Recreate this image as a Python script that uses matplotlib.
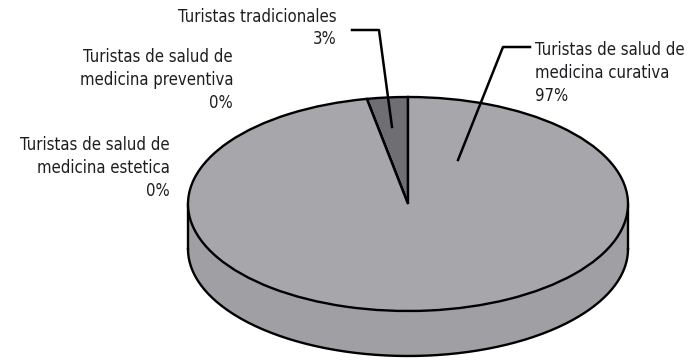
import numpy as np
import matplotlib.pyplot as plt
from matplotlib.patches import Polygon
from matplotlib import font_manager

# Data
categories = ['Turistas tradicionales',
              'Turistas de salud de\nmedicina preventiva',
              'Turistas de salud de\nmedicina estetica',
              'Turistas de salud de\nmedicina curativa']
values = [3, 0, 0, 97]
pct_labels = ['3%', '0%', '0%', '97%']
colors = ['#6f6f73', '#a7a7ab', '#a7a7ab', '#a7a7ab']
side_colors = ['#66666a', '#a0a0a4', '#a0a0a4', '#a0a0a4']

names = {f.name for f in font_manager.fontManager.ttflist}
fam = 'Liberation Sans Narrow' if 'Liberation Sans Narrow' in names else 'DejaVu Sans'
plt.rcParams['font.family'] = [fam, 'DejaVu Sans']

W, H = 695, 360
cx, cy, rx, ry = 408, 204, 220, 107
depth = 45 / ry


def px(x, y):
    # pixel position -> data coords
    return (x - cx) / rx, (cy - y) / ry


fig = plt.figure(figsize=(W / 100, H / 100), dpi=100)
ax = fig.add_axes([0, 0, 1, 1])

wedges, _ = ax.pie(values, startangle=90, counterclock=True, colors=colors,
                   wedgeprops=dict(edgecolor='black', linewidth=1.7))
for w in wedges:
    w.set_zorder(3)

# side wall of the cylinder (visible front half, 180..360 deg)
for w, sc in zip(wedges, side_colors):
    t1, t2 = w.theta1 % 360, w.theta2 % 360
    if t2 <= t1:
        t2 += 360
    for off in (0, 360):
        a, b = max(t1, 180 + off), min(t2, 360 + off)
        if b <= a:
            continue
        th = np.radians(np.linspace(a, b, 100))
        top = np.column_stack([np.cos(th), np.sin(th)])
        bot = np.column_stack([np.cos(th[::-1]), np.sin(th[::-1]) - depth])
        ax.add_patch(Polygon(np.vstack([top, bot]), closed=True, facecolor=sc,
                             edgecolor='none', zorder=1))
th = np.radians(np.linspace(180, 360, 200))
ax.plot(np.cos(th), np.sin(th) - depth, color='black', lw=1.7, zorder=2)
ax.plot([-1, -1], [0, -depth], color='black', lw=1.7, zorder=2)
ax.plot([1, 1], [0, -depth], color='black', lw=1.7, zorder=2)

ax.set_aspect('auto')
ax.set_xlim(px(0, 0)[0], px(W, 0)[0])
ax.set_ylim(px(0, H)[1], px(0, 0)[1])
ax.axis('off')

fs = 12
tc = '#1e1e22'
txt = dict(fontsize=fs, color=tc, linespacing=1.35, va='center', fontstretch='condensed')
# labels
ax.text(*px(337, 28), categories[0] + '\n' + pct_labels[0], ha='right', **txt)
ax.text(*px(233, 80), categories[1] + '\n' + pct_labels[1], ha='right', **txt)
ax.text(*px(170, 168), categories[2] + '\n' + pct_labels[2], ha='right', **txt)
ax.text(*px(535, 73), categories[3] + '\n' + pct_labels[3], ha='left', **txt)

# leader lines
x0, y0 = px(352, 30)
x1, y1 = px(379, 30)
x2, y2 = px(392, 127)
ax.plot([x0, x1, x2], [y0, y1, y2], color='black', lw=1.8, zorder=5)
x0, y0 = px(530, 47)
x1, y1 = px(503, 47)
x2, y2 = px(458, 160)
ax.plot([x0, x1, x2], [y0, y1, y2], color='black', lw=1.8, zorder=5)

fig.savefig('out.png', dpi=100, facecolor='white')
